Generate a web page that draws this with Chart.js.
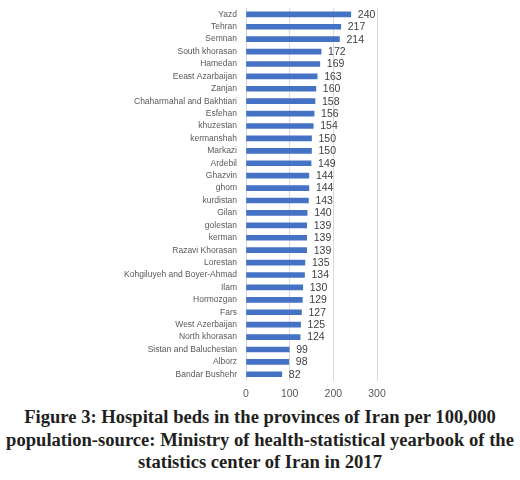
<!DOCTYPE html>
<html>
<head>
<meta charset="utf-8">
<script src="https://cdn.jsdelivr.net/npm/chart.js@4/dist/chart.umd.min.js"></script>
<style>
  body { margin: 0; background: #fff; width: 520px; height: 480px; overflow: hidden; }
  #wrap { position: relative; width: 520px; height: 406px; margin-top: -6px; }
  #caption {
    font-family: 'Liberation Serif', 'DejaVu Serif', serif;
    font-weight: bold;
    font-size: 18.6px;
    line-height: 22.5px;
    color: #231f20;
    text-align: center;
    margin-top: 6px;
  }
</style>
</head>
<body>
<div id="wrap"><canvas id="chart"></canvas></div>
<div id="caption">Figure 3: Hospital beds in the provinces of Iran per 100,000<br>population-source: Ministry of health-statistical yearbook of the<br>statistics center of Iran in 2017</div>
<script>
// provinces, top to bottom
const provinces = [
  'Yazd', 'Tehran', 'Semnan', 'South khorasan', 'Hamedan', 'Eeast Azarbaijan',
  'Zanjan', 'Chaharmahal and Bakhtiari', 'Esfehan', 'khuzestan', 'kermanshah',
  'Markazi', 'Ardebil', 'Ghazvin', 'ghom', 'kurdistan', 'Gilan', 'golestan',
  'kerman', 'Razavi Khorasan', 'Lorestan', 'Kohgiluyeh and Boyer-Ahmad', 'Ilam',
  'Hormozgan', 'Fars', 'West Azerbaijan', 'North khorasan', 'Sistan and Baluchestan',
  'Alborz', 'Bandar Bushehr'
];
const beds = [
  240, 217, 214, 172, 169, 163, 160, 158, 156, 154, 150, 150, 149, 144, 144,
  143, 140, 139, 139, 139, 135, 134, 130, 129, 127, 125, 124, 99, 98, 82
];
const xTicks = [0, 100, 200, 300];

// value labels at the end of each bar
const valueLabels = {
  id: 'valueLabels',
  afterDatasetsDraw(chart) {
    const ctx = chart.ctx;
    const meta = chart.getDatasetMeta(0);
    ctx.save();
    ctx.font = '10.5px "Liberation Sans", Arial, sans-serif';
    ctx.fillStyle = '#404040';
    ctx.textAlign = 'left';
    ctx.textBaseline = 'middle';
    meta.data.forEach((bar, i) => {
      ctx.fillText(String(beds[i]), bar.x + 7, bar.y + 0.5);
    });
    ctx.restore();
  }
};

new Chart(document.getElementById('chart'), {
  type: 'bar',
  data: {
    labels: provinces,
    datasets: [{
      data: beds,
      backgroundColor: '#4472C4',
      barThickness: 5,
    }],
  },
  options: {
    indexAxis: 'y',
    responsive: true,
    maintainAspectRatio: false,
    animation: false,
    layout: { padding: { top: 0, right: 143, left: 0, bottom: 0 } },
    plugins: { legend: { display: false }, tooltip: { enabled: false } },
    scales: {
      x: {
        min: 0,
        max: 300,
        afterBuildTicks: (axis) => { axis.ticks = xTicks.map((v) => ({ value: v })); },
        afterFit: (axis) => { axis.height = 19.5; },
        grid: { color: '#d9d9d9', drawTicks: false },
        border: { display: false },
        ticks: {
          padding: 7,
          color: '#595959',
          font: { size: 10.5, family: '"Liberation Sans", Arial, sans-serif' },
        },
      },
      y: {
        afterFit: (axis) => { axis.width = 246; },
        grid: { display: false, drawTicks: false },
        border: { display: false },
        ticks: {
          padding: 9,
          autoSkip: false,
          color: '#595959',
          font: { size: 8.5, family: '"Liberation Sans", Arial, sans-serif' },
        },
      },
    },
  },
  plugins: [valueLabels],
});
</script>
</body>
</html>
